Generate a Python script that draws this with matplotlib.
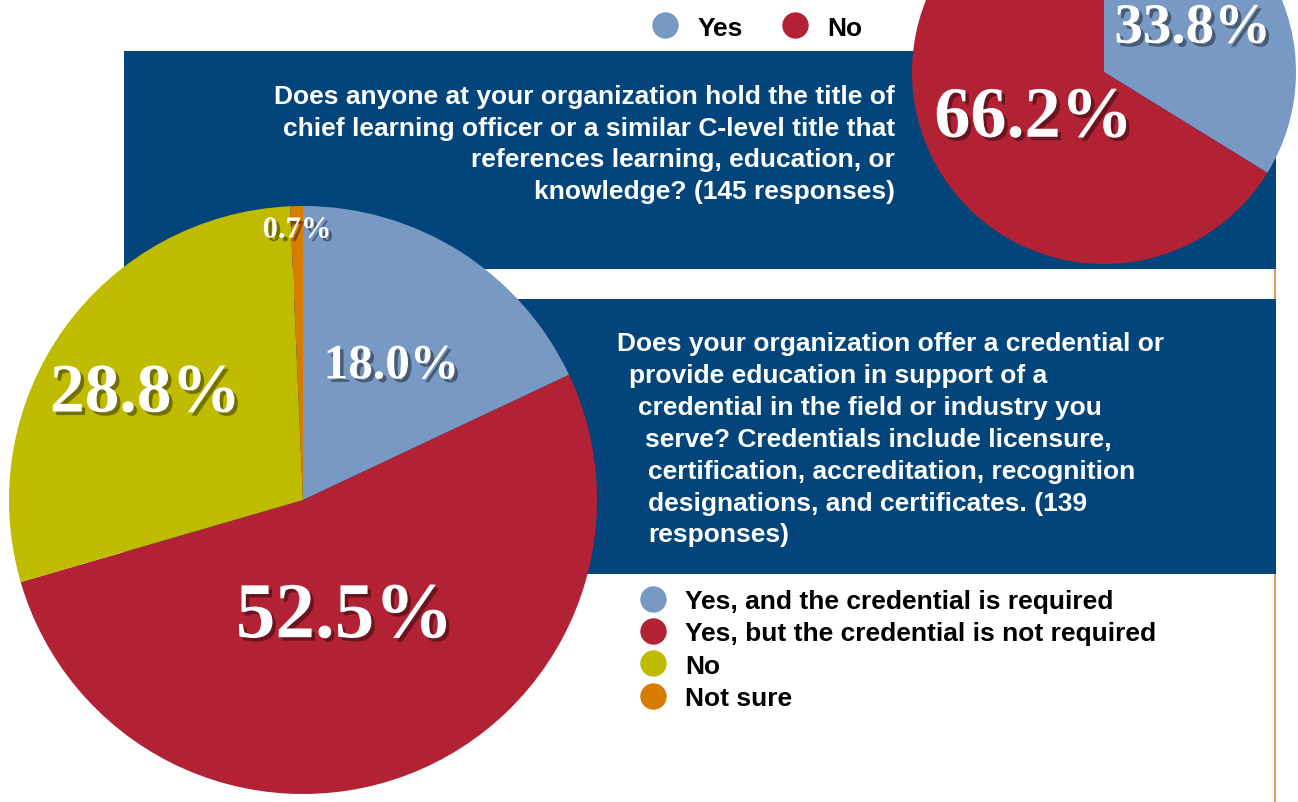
import numpy as np
import matplotlib.pyplot as plt
import matplotlib.patheffects as pe
from matplotlib.patches import Rectangle
from matplotlib.lines import Line2D

# data
clo_labels = ['Yes', 'No']
clo_values = [33.8, 66.2]
cred_labels = ['Yes, and the credential is required',
               'Yes, but the credential is not required',
               'No', 'Not sure']
cred_values = [18.0, 52.5, 28.8, 0.7]

q1_lines = ['Does anyone at your organization hold the title of',
            'chief learning officer or a similar C-level title that',
            'references learning, education, or',
            'knowledge? (145 responses)']
q2_lines = ['Does your organization offer a credential or',
            'provide education in support of a',
            'credential in the field or industry you',
            'serve? Credentials include licensure,',
            'certification, accreditation, recognition',
            'designations, and certificates. (139',
            'responses)']

navy = '#03457a'
blue = '#7799c4'
red = '#b22234'
olive = '#bfbc00'
orange = '#d87c00'

W, H = 1298, 803
def Y(y):
    return H - y

fig = plt.figure(figsize=(12.98, 8.03), dpi=100)
ax = fig.add_axes([0, 0, 1, 1])

# background boxes and side rule
ax.add_patch(Rectangle((124, Y(270)), 1276 - 124, 218, color=navy, lw=0, zorder=0.5))
ax.add_patch(Rectangle((124, Y(575)), 1276 - 124, 275, color=navy, lw=0, zorder=0.5))
ax.plot([1275.5, 1275.5], [0, H], color='#dc8a30', lw=1.2, zorder=0.3)

shadow = [pe.SimplePatchShadow(offset=(2.5, -2.5), shadow_rgbFace='black', alpha=0.4), pe.Normal()]
serif = dict(family='Liberation Serif', weight='bold', color='white', ha='center', va='center',
             zorder=5, path_effects=shadow)

def pie_labels(wedges, values, center, radius, dists, sizes):
    for w, v, d, s in zip(wedges, values, dists, sizes):
        th = np.deg2rad((w.theta1 + w.theta2) / 2)
        x = center[0] + d * radius * np.cos(th)
        y = center[1] + d * radius * np.sin(th) - 0.11 * s * 100 / 72
        ax.text(x, y, f'{v:.1f}%', fontsize=s, **serif)

# small pie (top right)
c1, r1 = (1104, Y(73)), 192
w1, _ = ax.pie(clo_values, colors=[blue, red], startangle=90, counterclock=False,
               center=c1, radius=r1, wedgeprops=dict(linewidth=0, zorder=2))
pie_labels(w1, clo_values, c1, r1, [0.53, 0.42], [41, 52])

# big pie
c2, r2 = (303, Y(501)), 294
w2, _ = ax.pie(cred_values, colors=[blue, red, olive, orange], startangle=90, counterclock=False,
               center=c2, radius=r2, wedgeprops=dict(linewidth=0, zorder=2))
pie_labels(w2, cred_values, c2, r2, [0.56, 0.40, 0.66, 0.93], [35.5, 57, 50, 22])

# question texts
sans = dict(family='Liberation Sans', weight='bold', color='white', fontsize=19, va='center', zorder=4)
for i, line in enumerate(q1_lines):
    ax.text(895, Y(97 + i * 31.7), line, ha='right', **sans)
q2_x = [617, 629, 638, 645, 648, 648, 648]
for i, line in enumerate(q2_lines):
    ax.text(q2_x[i], Y(344 + i * 31.9), line, ha='left', **sans)

# legends
def handles(cols):
    return [Line2D([], [], marker='o', ls='', markersize=19, markerfacecolor=c, markeredgewidth=0)
            for c in cols]

legfont = dict(family='Liberation Sans', weight='bold', size=19)
leg1 = ax.legend(handles([blue, red, olive, orange]), cred_labels, loc='center left',
                 bbox_to_anchor=(640, Y(650.5)), bbox_transform=ax.transData,
                 frameon=False, prop=legfont, borderpad=0, borderaxespad=0,
                 handlelength=1.0, handletextpad=0.71, labelspacing=0.31)
ax.add_artist(leg1)
ax.legend(handles([blue, red]), clo_labels, loc='center left', ncol=2,
          bbox_to_anchor=(652, Y(28.5)), bbox_transform=ax.transData,
          frameon=False, prop=legfont, borderpad=0, borderaxespad=0,
          handlelength=1.0, handletextpad=0.71, columnspacing=1.5)

ax.set_xlim(0, W)
ax.set_ylim(0, H)
ax.set_aspect('equal')
ax.axis('off')

plt.savefig('out.png', dpi=100)
